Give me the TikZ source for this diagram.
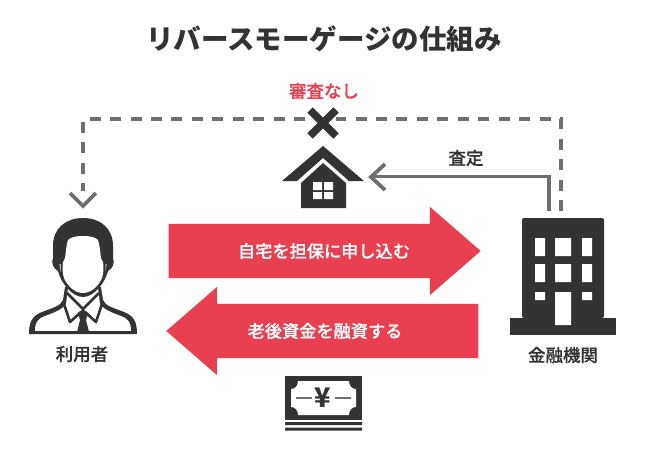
\documentclass[tikz,border=0pt]{standalone}
\usepackage{fontspec}
\usepackage{tikz}
\usetikzlibrary{positioning,
                arrows.meta,                % arrow tips
                shapes.arrows}
\setmainfont{Noto Sans CJK JP}
\newfontfamily\medfont[FakeBold=0.5]{Noto Sans CJK JP Medium}
\definecolor{darkicon}{HTML}{333333}
\definecolor{flowred}{HTML}{E8404F}
\definecolor{linegray}{HTML}{6F6F6F}
\tikzset{
  icon/.style={fill=darkicon,draw=none},
  hole/.style={fill=white,draw=none},
  caption/.style={text=darkicon,font=\fontsize{17.5}{19}\medfont,inner sep=0pt},
  flowlabel/.style={text=white,font=\fontsize{17.2}{19}\medfont,inner sep=0pt},
  flowarrow/.style={single arrow,fill=flowred,draw=none,inner sep=0pt,inner ysep=27pt,
    minimum height=312pt,single arrow head extend=17pt,
    single arrow tip angle=82,single arrow head indent=0pt},
  chevron/.style={draw=linegray,line width=3.8pt,fill=none},
  dashedlink/.style={draw=linegray,line width=3.4pt,dash pattern=on 11pt off 9.46pt},
  solidlink/.style={draw=linegray,line width=3.4pt}
}
\begin{document}
\begin{tikzpicture}[x=1pt,y=-1pt]
  \useasboundingbox (0,0) rectangle (650,463);

  \node[text=darkicon,font=\fontsize{27.5}{30}\selectfont\bfseries,inner sep=0pt] (title) at (324,39) {リバースモーゲージの仕組み};

  % connectors
  \coordinate (bankdash) at (561,211);
  \coordinate (topright) at (561,119);
  \coordinate (topleft) at (83,119);
  \coordinate (userdash) at (83,191);
  \coordinate (bankline) at (549,211);
  \coordinate (houseline) at (372,176.5);
  \draw[dashedlink] (bankdash) -- (topright) -- (topleft) -- (userdash);
  \draw[chevron] (70,193) -- (83,206) -- (96,193);
  \draw[solidlink] (bankline) |- (houseline);
  \draw[chevron] (385,164) -- (371,177) -- (385,190);

  % cross
  \node[text=flowred,font=\fontsize{17.5}{19}\medfont,inner sep=0pt] (nocheck) at (324,91) {審査なし};
  \fill[white] (307,106) rectangle (336,140);
  \draw[darkicon,line width=7.5pt] (310,110) -- (336,136) (336,110) -- (310,136);

  % house
  \fill[icon] (323,146) -- (364,181) -- (349,181) -- (323,158) -- (297,181) -- (282,181) -- cycle;
  \fill[icon] (323,163) -- (346,183) -- (346,208) -- (301,208) -- (301,183) -- cycle;
  \fill[hole] (313,182) rectangle (322,190) (324,182) rectangle (333,190)
              (313,192) rectangle (322,199) (324,192) rectangle (333,199);

  % flows
  \node[flowarrow,anchor=tip] (loan) at (481,251) {};
  \node[flowarrow,shape border rotate=180,anchor=tip] (funds) at (166,331) {};
  \node[flowlabel] (loantext) at (324,251) {自宅を担保に申し込む};
  \node[flowlabel] (fundstext) at (325,331) {老後資金を融資する};

  % user
  \fill[icon] (29,334) .. controls (29,322) and (32,316) .. (42,312)
    .. controls (52,308) and (61,306) .. (63,300) -- (65,287) -- (101,287) -- (103,300)
    .. controls (105,306) and (114,308) .. (124,312)
    .. controls (134,316) and (137,322) .. (137,334) -- cycle;
  \fill[hole] (35,331) .. controls (35,323) and (37,319) .. (45,316)
    .. controls (53,313) and (62,310) .. (66,304) -- (68,288) -- (98,288) -- (100,304)
    .. controls (104,310) and (113,313) .. (121,316)
    .. controls (129,319) and (131,323) .. (131,331) -- cycle;
  \fill[icon] (83,218) .. controls (66,218) and (53,228) .. (53,246)
    -- (53,258) .. controls (51,263) and (53,268) .. (58,271)
    .. controls (61,283) and (72,297) .. (83,297)
    .. controls (94,297) and (105,283) .. (108,271)
    .. controls (113,268) and (115,263) .. (113,258) -- (113,246)
    .. controls (113,228) and (100,218) .. (83,218) -- cycle;
  \fill[hole] (83,236) .. controls (76,236) and (71,237) .. (68,240)
    .. controls (66,246) and (66,252) .. (65,258) -- (63,262)
    .. controls (62,270) and (63,275) .. (64,278)
    .. controls (67,285) and (74,293) .. (83,293)
    .. controls (92,293) and (99,285) .. (102,278)
    .. controls (103,275) and (104,270) .. (103,262) -- (101,258)
    .. controls (100,252) and (100,246) .. (98,240)
    .. controls (95,237) and (90,236) .. (83,236) -- cycle;
  \fill[hole] (59.5,264) -- (60.5,264) -- (60.5,272) -- cycle
              (106.5,264) -- (105.5,264) -- (105.5,272) -- cycle;
  % collar and tie
  \draw[darkicon,line width=2.6pt,line join=round] (67,293) -- (83,309) -- (99,293)
    (64,304) -- (70,322) -- (81,312) (85,312) -- (96,322) -- (102,304);
  \fill[icon] (78,313) -- (83,309) -- (88,313) -- (86,320) -- (89,332) -- (77,332) -- (80,320) -- cycle;
  \fill[icon] (29,331) rectangle (137,334);
  \node[caption] (user) at (82,354) {利用者};

  % bank
  \fill[icon,rounded corners=2pt] (522,318) -- (522,218) -- (604,218) -- (604,318) -- cycle;
  \fill[icon] (510,318) rectangle (616,335);
  \fill[hole] (535,238) rectangle (545,256) (555,238) rectangle (571,256) (582,238) rectangle (592,256)
              (535,264) rectangle (545,282) (555,264) rectangle (571,282) (582,264) rectangle (592,282)
              (535,292) rectangle (545,300) (555,292) rectangle (571,325) (582,292) rectangle (592,300);
  \node[caption] (bank) at (563,355) {金融機関};

  \node[caption] (appraisal) at (466,158) {査定};

  % banknote
  \fill[icon] (285,376) rectangle (362,420);
  \fill[hole] (298,381) -- (349,381) .. controls (349,386) and (352,389) .. (356,389)
    -- (356,407) .. controls (352,407) and (349,410) .. (349,415) -- (298,415)
    .. controls (298,410) and (295,407) .. (291,407) -- (291,389)
    .. controls (295,389) and (298,386) .. (298,381) -- cycle;
  \draw[linegray,line width=1.6pt] (296,398) -- (312,398) (335,398) -- (351,398);
  \node[text=darkicon,font=\fontsize{27}{30}\selectfont\bfseries,inner sep=0pt] (yen) at (323,398) {¥};
  \fill[icon] (285,422) rectangle (362,425) (285,427.5) rectangle (362,430.5);
\end{tikzpicture}
\end{document}
